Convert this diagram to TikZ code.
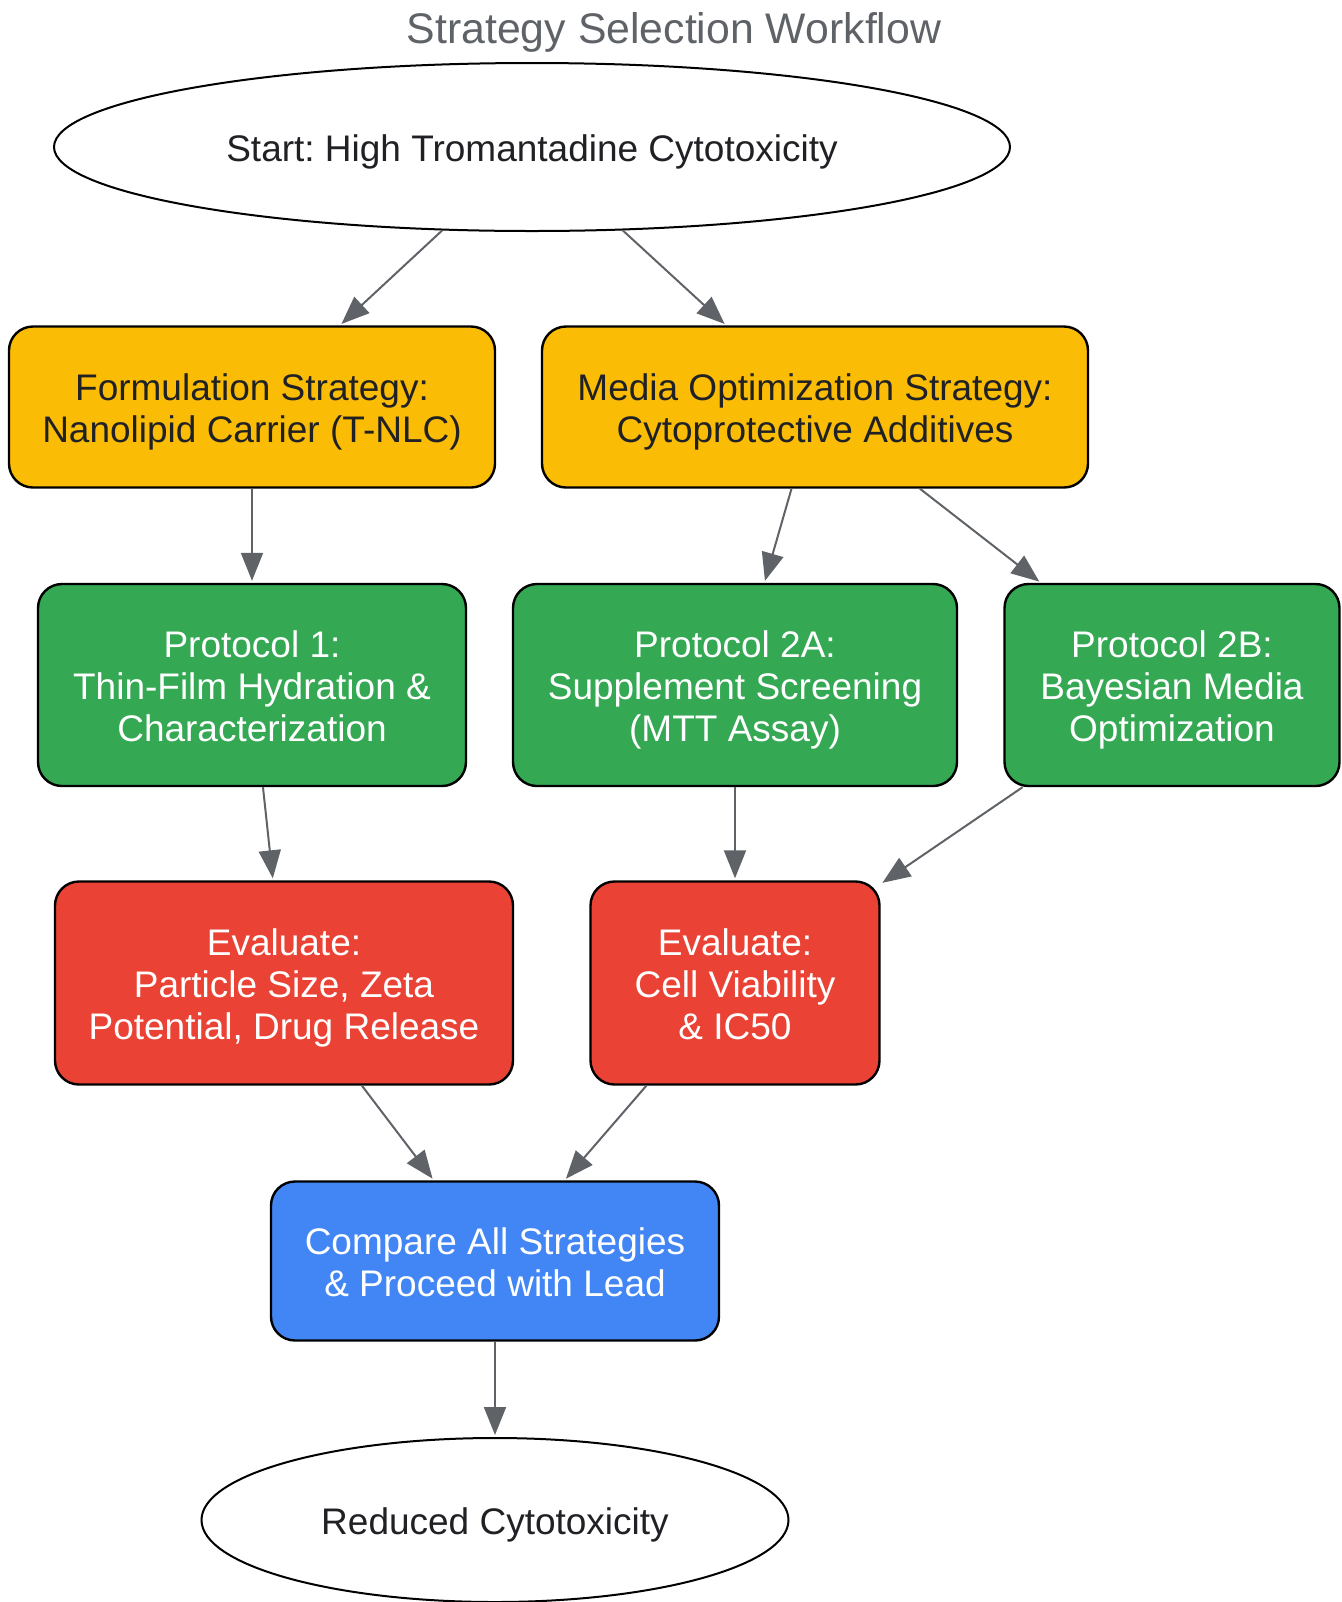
\documentclass[tikz,border=0pt]{standalone}
\usepackage{fontspec}
\setmainfont{Liberation Sans}
\frenchspacing
\usetikzlibrary{arrows.meta,shapes.geometric}
\definecolor{gyellow}{HTML}{FBBC05}
\definecolor{ggreen}{HTML}{34A853}
\definecolor{gred}{HTML}{EA4335}
\definecolor{gblue}{HTML}{4285F4}
\definecolor{gdark}{HTML}{202124}
\definecolor{ggray}{HTML}{5F6368}
\newcommand\celltext[1]{\begin{tabular}[b]{@{}c@{}}#1\end{tabular}}

\tikzset{
  txt/.style={font=\fontsize{18.5}{21}\selectfont, inner sep=0pt, text depth=-0.9pt},
  oval/.style={txt, ellipse, draw=black, line width=1pt, fill=white, text=gdark},
  box/.style={txt, draw=black, line width=1.2pt, rounded corners=12pt},
  strat/.style={box, fill=gyellow, text=gdark},
  proto/.style={box, fill=ggreen, text=white},
  evalbox/.style={box, fill=gred, text=white},
  lead/.style={box, fill=gblue, text=white},
  link/.style={draw=ggray, line width=1pt, -{Triangle[length=14pt,width=11pt]}, shorten >=1pt}
}

\begin{document}
\begin{tikzpicture}[x=0.5pt,y=-0.5pt]
\useasboundingbox (0,0) rectangle (1342,1602);
\node[text=ggray, inner sep=0pt, font=\fontsize{21.4}{24}\selectfont] (title) at (674,32) {Strategy Selection Workflow};

% start and strategies
\node[oval, minimum width=478pt, minimum height=84pt] (start) at (532,147) {\celltext{Start: High Tromantadine Cytotoxicity}};
\node[strat, minimum width=243pt, minimum height=80.5pt] (form) at (252,407) {\celltext{Formulation Strategy:\\Nanolipid Carrier (T-NLC)}};
\node[strat, minimum width=273pt, minimum height=80.5pt] (media) at (815,407) {\celltext{Media Optimization Strategy:\\Cytoprotective Additives}};

% protocols
\node[proto, minimum width=214pt, minimum height=101pt] (prot1) at (252,685) {\celltext{Protocol 1:\\Thin-Film Hydration \&\\Characterization}};
\node[proto, minimum width=222pt, minimum height=101pt] (prot2a) at (735,685) {\celltext{Protocol 2A:\\Supplement Screening\\(MTT Assay)}};
\node[proto, minimum width=167.5pt, minimum height=101pt] (prot2b) at (1172,685) {\celltext{Protocol 2B:\\Bayesian Media\\Optimization}};

% evaluation
\node[evalbox, minimum width=229pt, minimum height=101.5pt] (eval1) at (284,983) {\celltext{Evaluate:\\Particle Size, Zeta\\Potential, Drug Release}};
\node[evalbox, minimum width=144.5pt, minimum height=101.5pt] (eval2) at (735,983) {\celltext{Evaluate:\\Cell Viability\\\& IC50}};

% end
\node[lead, minimum width=224pt, minimum height=79.5pt] (comp) at (495,1261) {\celltext{Compare All Strategies\\\& Proceed with Lead}};
\node[oval, minimum width=293.5pt, minimum height=82pt] (done) at (495,1520) {\celltext{Reduced Cytotoxicity}};

\draw[link] (start) -- (form);
\draw[link] (start) -- (media);
\draw[link] (form) -- (prot1);
\draw[link] (media) -- (prot2a);
\draw[link] (media) -- (prot2b);
\draw[link] (prot1) -- (eval1);
\draw[link] (prot2a) -- (eval2);
\draw[link] (prot2b) -- (eval2);
\draw[link] (eval1) -- (comp);
\draw[link] (eval2) -- (comp);
\draw[link] (comp) -- (done);
\end{tikzpicture}
\end{document}
